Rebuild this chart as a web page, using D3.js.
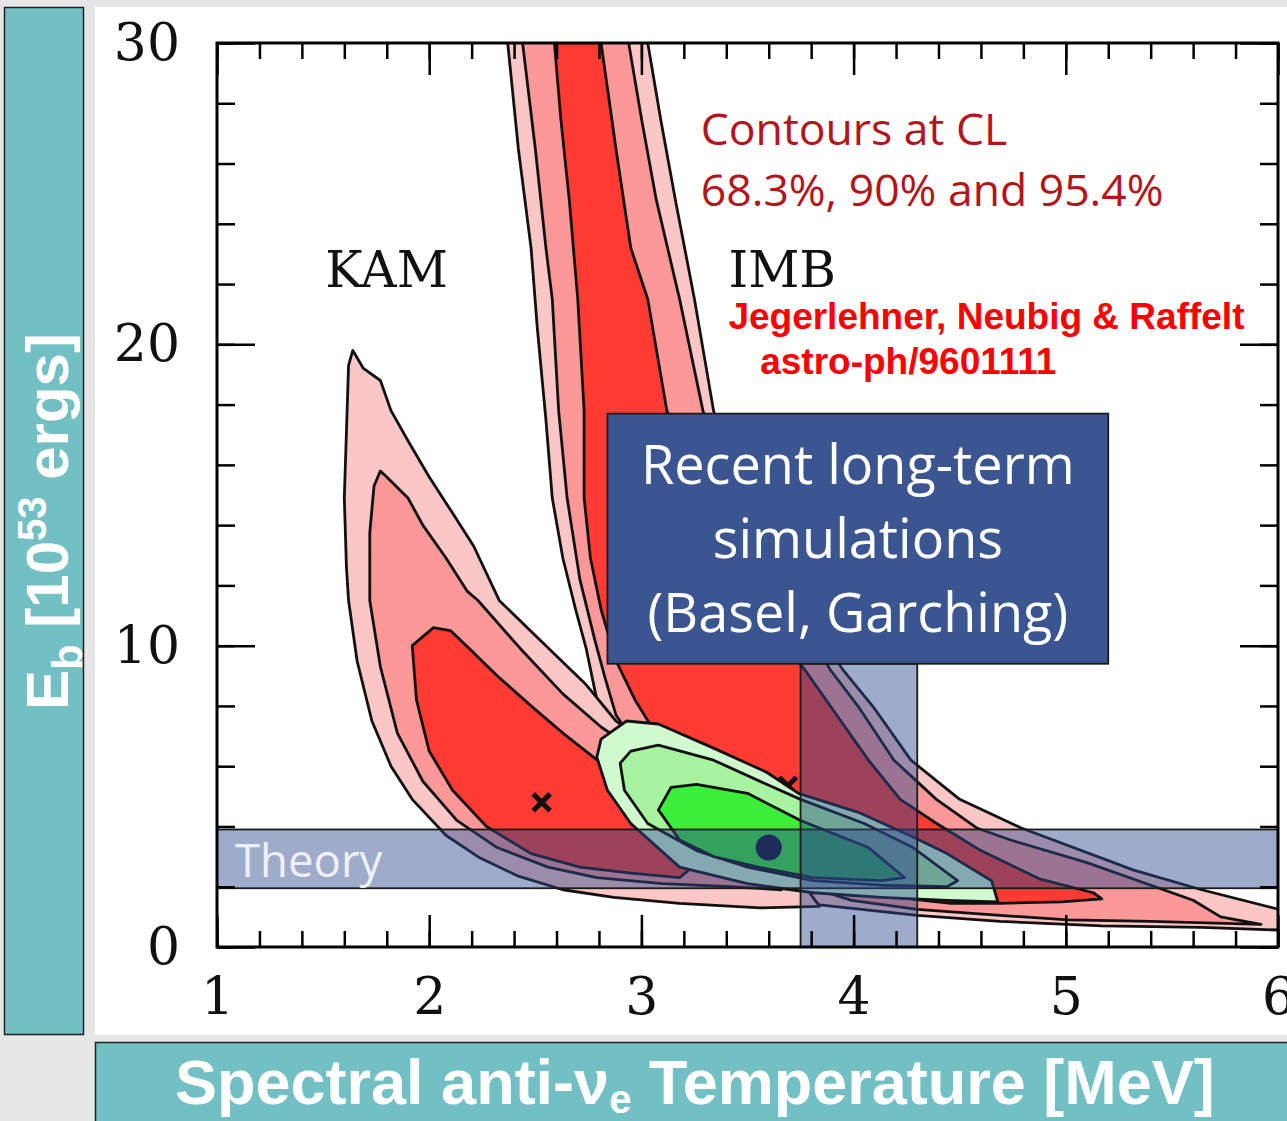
<!DOCTYPE html>
<html>
<head>
<meta charset="utf-8">
<script src="https://cdn.jsdelivr.net/npm/d3@7.9.0/dist/d3.min.js"></script>
<style>
  html, body { margin: 0; padding: 0; background: #e6e6e6; }
  svg { display: block; }
</style>
</head>
<body>
<svg id="chart" width="1287" height="1121"></svg>
<script>
// contour outlines, [T in MeV, E_b in 1e53 erg]
const imbOuter = [[2.36,30.3],[2.37,30.0],[2.42,26.5],[2.48,23.2],[2.51,20.5],[2.55,17.5],[2.58,14.9],[2.63,12.9],[2.69,11.2],[2.74,9.9],[2.79,8.2],[2.84,7.2],[3.04,5.2],[3.28,3.55],[3.56,2.2],[3.84,1.4],[4.30,1.05],[4.69,0.85],[5.17,0.7],[5.64,0.65],[6.06,0.55],
  [6.06,1.15],[5.64,1.9],[5.32,2.55],[4.79,3.95],[4.50,4.9],[4.27,6.2],[4.10,7.9],[3.95,9.2],[3.75,11.2],[3.56,13.5],[3.44,15.5],[3.34,17.8],[3.25,21.5],[3.16,24.8],[3.09,27.5],[3.03,30.0],[3.03,30.3]];
const imbMid = [[2.44,30.3],[2.44,30.0],[2.50,26.5],[2.55,23.2],[2.58,21.5],[2.61,17.8],[2.65,14.9],[2.71,12.2],[2.78,10.2],[2.83,8.9],[2.88,7.7],[3.09,5.5],[3.37,3.55],[3.70,2.2],[3.99,1.55],[4.30,1.25],[4.69,1.05],[5.01,0.9],[5.40,0.85],[5.92,0.75],
  [5.73,1.0],[5.60,1.55],[5.10,2.8],[4.74,3.55],[4.58,3.95],[4.39,4.9],[4.19,6.2],[4.03,7.9],[3.89,9.2],[3.70,11.5],[3.42,14.9],[3.29,17.8],[3.18,21.5],[3.07,24.8],[3.00,27.5],[2.94,30.0],[2.94,30.3]];
const imbInner = [[2.59,30.3],[2.59,30.0],[2.62,27.5],[2.66,24.8],[2.70,21.5],[2.73,17.8],[2.73,14.9],[2.76,12.9],[2.81,11.2],[2.88,9.5],[2.97,8.2],[3.04,7.4],[3.23,5.2],[3.47,3.55],[3.75,2.4],[4.13,1.7],[4.46,1.45],[4.69,1.45],[4.98,1.5],[5.17,1.6],
  [5.13,1.8],[4.88,2.25],[4.60,3.2],[4.38,4.15],[4.22,4.9],[4.07,6.2],[3.92,7.7],[3.77,9.2],[3.66,10.2],[3.47,12.2],[3.28,14.9],[3.12,17.8],[3.03,21.5],[2.95,23.2],[2.88,26.5],[2.81,30.0],[2.81,30.3]];

const kamOuter = [[1.64,19.8],[1.62,19.3],[1.61,17.1],[1.60,14.9],[1.61,12.6],[1.62,11.5],[1.66,9.5],[1.73,7.5],[1.82,6.0],[1.92,4.9],[2.08,3.7],[2.24,2.95],[2.42,2.35],[2.63,1.9],[2.87,1.65],[3.18,1.45],[3.56,1.3],[3.84,1.35],
  [3.75,2.2],[3.56,3.9],[3.18,5.9],[2.88,7.5],[2.74,8.7],[2.55,10.0],[2.33,11.5],[2.21,13.3],[2.11,14.4],[2.00,15.6],[1.90,16.8],[1.82,17.8],[1.77,18.8],[1.69,19.2]];
const kamMid = [[1.77,15.8],[1.74,15.3],[1.72,13.75],[1.72,11.5],[1.77,9.3],[1.85,7.1],[1.97,5.5],[2.13,4.2],[2.32,3.3],[2.56,2.65],[2.79,2.3],[3.10,2.1],[3.42,2.0],[3.66,1.9],
  [3.56,2.9],[3.28,4.9],[3.00,6.4],[2.81,7.3],[2.63,8.4],[2.43,9.9],[2.23,11.5],[2.18,11.8],[2.08,12.9],[1.97,14.0],[1.90,14.9],[1.80,15.6]];
const kamInner = [[2.02,10.6],[1.92,10.0],[1.94,8.2],[2.00,6.5],[2.11,5.2],[2.27,4.0],[2.48,3.1],[2.71,2.65],[2.95,2.45],[3.18,2.3],
  [3.28,2.9],[3.18,4.2],[3.00,5.5],[2.81,6.1],[2.63,7.1],[2.48,8.0],[2.32,9.0],[2.19,9.9],[2.10,10.5]];

const newOuter = [[2.79,6.3],[2.81,6.9],[2.93,7.5],[3.08,7.4],[3.34,6.6],[3.59,5.8],[3.74,5.1],[4.03,4.45],[4.28,3.65],[4.44,3.1],[4.65,2.2],[4.68,1.5],[4.44,1.55],[4.13,1.65],[3.81,1.8],[3.50,2.1],[3.18,2.65],[2.95,4.1],[2.84,5.2]];
const newMid = [[2.90,6.1],[2.95,6.5],[3.08,6.7],[3.34,6.2],[3.59,5.4],[3.75,4.9],[4.05,4.1],[4.28,3.3],[4.49,2.2],[4.44,2.0],[4.13,2.05],[3.81,2.2],[3.50,2.65],[3.26,3.2],[3.03,4.1],[2.92,5.2]];
const newInner = [[3.08,4.55],[3.14,5.3],[3.26,5.4],[3.50,5.1],[3.75,4.2],[4.07,3.3],[4.24,2.3],[4.13,2.2],[3.81,2.3],[3.55,2.65],[3.34,3.0],[3.18,3.55]];

// best fits
const crosses = [[2.53,4.8],[3.69,5.35]];
const bestFit = [3.60,3.3];

// bands
const theoryE = [1.95,3.9];
const simT = [3.75,4.30];
const simBox = {t: [2.84,5.20], e: [9.4,17.7]};

const xTicks = [1,2,3,4,5,6];
const yTicks = [0,10,20,30];

const svg = d3.select('#chart');
const x = d3.scaleLinear().domain([1,6]).range([217,1278]);
const y = d3.scaleLinear().domain([0,30]).range([947,43]);

// slide panels
svg.append('rect').attr('x',95).attr('y',7).attr('width',1200).attr('height',1028).attr('fill','#fff');
svg.append('rect').attr('x',4.5).attr('y',7.5).attr('width',79).attr('height',1027)
  .attr('fill','#72bfc4').attr('stroke','#222').attr('stroke-width',1.5);
svg.append('rect').attr('x',95.5).attr('y',1042.5).attr('width',1200).attr('height',90)
  .attr('fill','#72bfc4').attr('stroke','#222').attr('stroke-width',1.5);

svg.append('clipPath').attr('id','plot')
  .append('rect').attr('x',x(1)).attr('y',y(30)).attr('width',x(6)-x(1)).attr('height',y(0)-y(30));

const g = svg.append('g').attr('clip-path','url(#plot)');
const outline = d3.line().x(d => x(d[0])).y(d => y(d[1])).curve(d3.curveLinearClosed);

function contour(data, fill) {
  g.append('path').attr('d', outline(data))
    .attr('fill', fill).attr('stroke','#111').attr('stroke-width',2.8).attr('stroke-linejoin','round');
}

contour(imbOuter, '#fac6c6');
contour(imbMid, '#fc9898');
contour(imbInner, '#ff3b33');
contour(kamOuter, '#fac6c6');
contour(kamMid, '#fc9898');
contour(kamInner, '#ff3b33');

g.selectAll('path.cross').data(crosses).join('path').attr('class','cross')
  .attr('transform', d => `translate(${x(d[0])},${y(d[1])})`)
  .attr('d', d3.symbol(d3.symbolTimes, 190)())
  .attr('stroke','#111').attr('stroke-width',5).attr('fill','none');

contour(newOuter, '#d0fbcf');
contour(newMid, '#a6f4a0');
contour(newInner, '#3aee3a');

g.append('circle').attr('cx',x(bestFit[0])).attr('cy',y(bestFit[1])).attr('r',13).attr('fill','#111630');

// theory band and simulation band
const bandFill = 'rgba(43,71,139,0.46)';
g.append('rect').attr('x',x(1)).attr('y',y(theoryE[1])).attr('width',x(6)-x(1)).attr('height',y(theoryE[0])-y(theoryE[1]))
  .attr('fill',bandFill).attr('stroke','#1a1a1a').attr('stroke-width',1.8);
g.append('rect').attr('x',x(simT[0])).attr('y',y(simBox.e[0])).attr('width',x(simT[1])-x(simT[0])).attr('height',y(0)-y(simBox.e[0]))
  .attr('fill',bandFill).attr('stroke','#1a1a1a').attr('stroke-width',1.8);

// axes
const minorX = d3.range(5,31).map(i => i/5);
const minorY = d3.range(0,31,2);
const serif = 'DejaVu Serif, serif';

function styleAxis(sel) {
  sel.select('.domain').remove();
  sel.selectAll('line').attr('stroke','#000').attr('stroke-width',2.5);
  sel.selectAll('text').attr('font-family',serif).attr('font-size',52).attr('fill','#111');
}

svg.append('g').attr('transform',`translate(0,${y(0)})`)
  .call(d3.axisBottom(x).tickValues(minorX).tickSize(-16).tickFormat('')).call(styleAxis);
svg.append('g').attr('transform',`translate(0,${y(0)})`)
  .call(d3.axisBottom(x).tickValues(xTicks).tickSize(-32).tickPadding(30).tickFormat(d3.format('d'))).call(styleAxis);
svg.append('g').attr('transform',`translate(0,${y(30)})`)
  .call(d3.axisTop(x).tickValues(minorX).tickSize(-16).tickFormat('')).call(styleAxis);
svg.append('g').attr('transform',`translate(0,${y(30)})`)
  .call(d3.axisTop(x).tickValues(xTicks).tickSize(-32).tickFormat('')).call(styleAxis);
svg.append('g').attr('transform',`translate(${x(1)},0)`)
  .call(d3.axisLeft(y).tickValues(minorY).tickSize(-18).tickFormat('')).call(styleAxis);
svg.append('g').attr('transform',`translate(${x(1)},0)`)
  .call(d3.axisLeft(y).tickValues(yTicks).tickSize(-38).tickPadding(37).tickFormat(d3.format('d'))).call(styleAxis);
svg.append('g').attr('transform',`translate(${x(6)},0)`)
  .call(d3.axisRight(y).tickValues(minorY).tickSize(-18).tickFormat('')).call(styleAxis);
svg.append('g').attr('transform',`translate(${x(6)},0)`)
  .call(d3.axisRight(y).tickValues(yTicks).tickSize(-38).tickFormat('')).call(styleAxis);

svg.append('rect').attr('x',x(1)).attr('y',y(30)).attr('width',x(6)-x(1)).attr('height',y(0)-y(30))
  .attr('fill','none').attr('stroke','#000').attr('stroke-width',3);

// simulation box
svg.append('rect').attr('x',x(simBox.t[0])).attr('y',y(simBox.e[1]))
  .attr('width',x(simBox.t[1])-x(simBox.t[0])).attr('height',y(simBox.e[0])-y(simBox.e[1]))
  .attr('fill','#3b5591').attr('stroke','#1a1a1a').attr('stroke-width',1.8);

const sans = 'Open Sans, sans-serif';
const boxLines = ['Recent long-term','simulations','(Basel, Garching)'];
svg.selectAll('text.box').data(boxLines).join('text').attr('class','box')
  .attr('x', x(4.02)).attr('y', (d,i) => y(15.35) + i*74)
  .attr('text-anchor','middle').attr('font-family',sans).attr('font-size',54).attr('fill','#fff')
  .text(d => d);

svg.append('text').attr('x',x(1.085)).attr('y',y(2.33))
  .attr('font-family',sans).attr('font-size',45.5).attr('fill','#eef1f7').text('Theory');

svg.append('text').attr('x',x(1.51)).attr('y',y(21.9)).attr('font-family',serif).attr('font-size',50).attr('fill','#111').text('KAM');
svg.append('text').attr('x',x(3.41)).attr('y',y(21.9)).attr('font-family',serif).attr('font-size',50).attr('fill','#111').text('IMB');

svg.append('text').attr('x',x(3.28)).attr('y',y(26.6)).attr('font-family',sans).attr('font-size',44.5).attr('fill','#b3151b').text('Contours at CL');
svg.append('text').attr('x',x(3.28)).attr('y',y(24.6)).attr('font-family',sans).attr('font-size',44.5).attr('fill','#b3151b').text('68.3%, 90% and 95.4%');

const arial = 'Liberation Sans, Arial, sans-serif';
svg.append('text').attr('x',x(3.41)).attr('y',y(20.5)).attr('font-family',arial).attr('font-weight','bold')
  .attr('font-size',37).attr('fill','#ff0000').text('Jegerlehner, Neubig & Raffelt');
svg.append('text').attr('x',x(3.56)).attr('y',y(19.0)).attr('font-family',arial).attr('font-weight','bold')
  .attr('font-size',37).attr('fill','#ff0000').text('astro-ph/9601111');

// axis titles
const yt = svg.append('text').attr('transform','translate(68,710) rotate(-90)')
  .attr('font-family',arial).attr('font-weight','bold').attr('font-size',60).attr('fill','#fff');
yt.append('tspan').text('E');
yt.append('tspan').attr('dy',14).attr('font-size',42).text('b');
yt.append('tspan').attr('dy',-14).text(' [10');
yt.append('tspan').attr('dy',-22).attr('font-size',40).text('53');
yt.append('tspan').attr('dy',22).text(' ergs]');

const xt = svg.append('text').attr('x',175).attr('y',1104)
  .attr('font-family',arial).attr('font-weight','bold').attr('font-size',63).attr('fill','#fff');
xt.append('tspan').text('Spectral anti-ν');
xt.append('tspan').attr('dy',9).attr('font-size',40).text('e');
xt.append('tspan').attr('dy',-9).text(' Temperature [MeV]');
</script>
</body>
</html>
